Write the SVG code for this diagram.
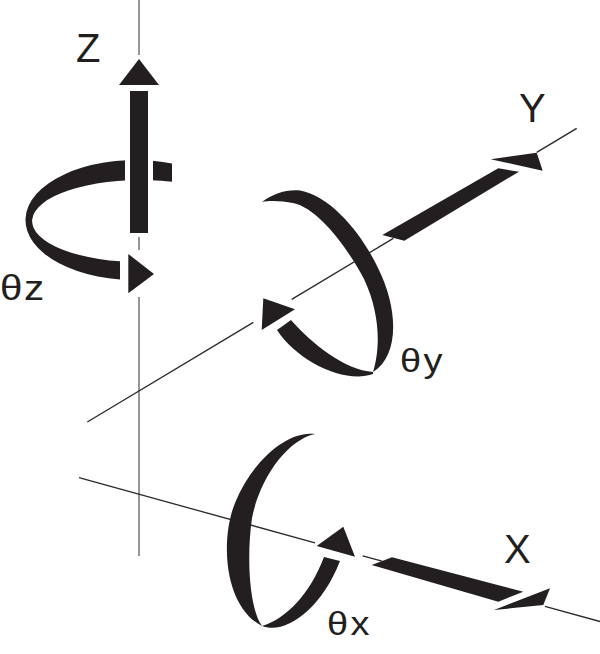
<svg xmlns="http://www.w3.org/2000/svg" width="600" height="654" viewBox="0 0 600 654">
<style>
.ax{stroke:#2a2a2a;stroke-width:1.3;fill:none;stroke-linecap:butt}
.axz{stroke:#6a6a6a;stroke-width:1.4;fill:none}
.sh{fill:#231f20;stroke:none}
.lbl{font-family:"Liberation Sans",Arial,sans-serif;fill:#231f20}
</style>
<rect width="600" height="654" fill="#ffffff"/>
<g id="connectors">
  <g id="axis-z">
    <line class="axz" x1="139" y1="0" x2="139" y2="55"/>
    <line class="axz" x1="139" y1="237" x2="139" y2="250"/>
    <line class="axz" x1="139" y1="297" x2="139" y2="556"/>
  </g>
  <g id="axis-y">
    <line class="ax" x1="87.3" y1="422" x2="253.3" y2="322.4"/>
    <line class="ax" x1="291.7" y1="299.4" x2="393.3" y2="238.4"/>
    <line class="ax" x1="536.7" y1="152.4" x2="576.7" y2="128.4"/>
  </g>
  <g id="axis-x">
    <line class="ax" x1="79" y1="477.7" x2="315" y2="542.8"/>
    <line class="ax" x1="362.7" y1="555.8" x2="382" y2="561.2"/>
    <line class="ax" x1="545" y1="606.3" x2="600" y2="621.5"/>
  </g>
</g>
<g id="theta-z">
  <path class="sh" d="M172,163.5 A110,60 0 1 0 120,279.5 L120,261.3 A108.5,41 0 1 1 172,181.8 Z"/>
  <rect x="125" y="150" width="28" height="40" fill="#ffffff"/>
  <polygon class="sh" points="128.3,254 154,274 128.3,293.3"/>
  <text class="lbl" font-size="36" letter-spacing="1.5" transform="translate(0,300) scale(1.12,1)">θz</text>
</g>
<g id="z-arrow">
  <rect class="sh" x="130" y="91" width="18" height="142"/>
  <polygon class="sh" points="139,59 119,85 159,85"/>
  <text class="lbl" x="76" y="62" font-size="40">Z</text>
</g>
<g id="theta-y">
  <path class="sh" d="M262,202 C272,194 287,189 300,190.5 C331,196 362,234 378,268 C399,310 399,356 373,372 C380,350 381,315 364,279 C347,247 318,208 293,203 C283,201 270,200 262,202 Z"/>
  <path class="sh" d="M373,372 C345,370 312,344 291,320 L277,330 C298,362 345,384 373,374 Z"/>
  <polygon class="sh" points="263.3,298.3 295,309.3 261.7,330"/>
  <text class="lbl" font-size="33" letter-spacing="2" transform="translate(400,371.7) scale(1.15,1)">θy</text>
</g>
<g id="y-arrow">
  <polygon class="sh" points="382.3,235 498.3,168.3 519,171.7 404.3,240.7"/>
  <polygon class="sh" points="490.7,159.3 536.7,152.7 542.7,170.7"/>
  <text class="lbl" x="519" y="122" font-size="40">Y</text>
</g>
<g id="theta-x">
  <path class="sh" d="M315,434 C289,430 253,459 235,503 C220,540 224,606 262,626 C250,610 246,560 252,518 C260,478 287,440 315,434 Z"/>
  <path class="sh" d="M262,626 C285,635 321,610 340,561 L324,557 C310,594 286,619 262,626 Z"/>
  <polygon class="sh" points="316.7,546 343.3,526.7 355,556.7"/>
  <text class="lbl" font-size="33" letter-spacing="2" transform="translate(327,635) scale(1.15,1)">θx</text>
</g>
<g id="x-arrow">
  <polygon class="sh" points="371.7,565 392,557.3 523.3,591.7 498.3,601.7"/>
  <polygon class="sh" points="550,588.3 494,610 543.3,605"/>
  <text class="lbl" x="504" y="562.7" font-size="40">X</text>
</g>
</svg>
